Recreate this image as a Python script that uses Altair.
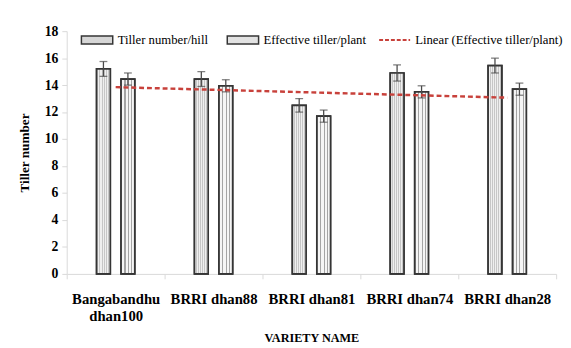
import altair as alt
import pandas as pd
import numpy as np

varieties = ["Bangabandhu dhan100", "BRRI dhan88", "BRRI dhan81", "BRRI dhan74", "BRRI dhan28"]
series_names = ["Tiller number/hill", "Effective tiller/plant"]
tiller_hill = [15.2, 14.45, 12.5, 14.9, 15.45]
tiller_hill_err = [0.55, 0.55, 0.5, 0.6, 0.55]
effective_tiller = [14.45, 13.95, 11.7, 13.5, 13.7]
effective_err = [0.45, 0.45, 0.45, 0.45, 0.45]
trend_name = "Linear (Effective tiller/plant)"
y_ticks = [0, 2, 4, 6, 8, 10, 12, 14, 16, 18]

rows = []
for i, v in enumerate(varieties):
    rows.append({"variety": v, "series": series_names[0], "value": tiller_hill[i],
                 "lo": tiller_hill[i] - tiller_hill_err[i], "hi": tiller_hill[i] + tiller_hill_err[i]})
    rows.append({"variety": v, "series": series_names[1], "value": effective_tiller[i],
                 "lo": effective_tiller[i] - effective_err[i], "hi": effective_tiller[i] + effective_err[i]})
df = pd.DataFrame(rows)

slope, intercept = np.polyfit(np.arange(1, len(varieties) + 1), effective_tiller, 1)
trend = pd.DataFrame({
    "variety": varieties,
    "fit": [intercept + slope * (i + 1) for i in range(len(varieties))],
    "name": [trend_name] * len(varieties),
})

SERIF = "Liberation Serif"
GRID = "#d9d9d9"
DARK = "#353535"


def stripes(n, c1, c2, frac):
    stops = []
    for k in range(n):
        a = k / n
        b = (k + frac) / n
        c = (k + 1) / n
        stops += [alt.GradientStop(offset=a, color=c1), alt.GradientStop(offset=b, color=c1),
                  alt.GradientStop(offset=b, color=c2), alt.GradientStop(offset=c, color=c2)]
    return alt.Gradient(gradient="linear", stops=stops, x1=0, x2=1, y1=0, y2=0)


tex1 = stripes(7, "#c6c6c6", "#efefef", 0.5)
tex2 = stripes(4, "#a4a4a4", "#f5f5f5", 0.3)

x_enc = alt.X(
    "variety:N", sort=varieties,
    scale=alt.Scale(paddingInner=0, paddingOuter=0),
    axis=alt.Axis(
        title="VARIETY NAME", labelAngle=0, labelFont=SERIF, labelFontSize=15,
        labelFontWeight="bold", labelColor="black", labelPadding=13, labelLineHeight=18,
        labelExpr="datum.value == 'Bangabandhu dhan100' ? ['Bangabandhu', 'dhan100'] : datum.value",
        tickBand="extent", tickSize=5, tickColor=GRID, domainColor=GRID,
        titleFont=SERIF, titleFontSize=12.5, titleFontWeight="bold", titleColor="black",
        titlePadding=8,
    ),
)
xoff = alt.XOffset("series:N", sort=series_names,
                   scale=alt.Scale(domain=series_names, range=[30.5, 69.5],
                                   paddingInner=0.44, paddingOuter=0))

y_axis = alt.Axis(
    title="Tiller number", values=y_ticks, grid=False, labelFont=SERIF, labelFontSize=14,
    labelFontWeight="bold", labelColor="black", labelPadding=4, tickSize=5,
    tickColor=GRID, domainColor=GRID, titleFont=SERIF, titleFontSize=13.5,
    titleFontWeight="bold", titleColor="black", titlePadding=13,
)
y_scale = alt.Scale(domain=[0, 18], nice=False)

bars = alt.Chart(df).mark_bar(stroke=DARK, strokeWidth=1.7).encode(
    x=x_enc,
    xOffset=xoff,
    y=alt.Y("value:Q", scale=y_scale, axis=y_axis),
    fill=alt.Fill(
        "series:N", sort=series_names,
        scale=alt.Scale(domain=series_names, range=["#d6d6d6", "#e2e2e2"]),
        legend=alt.Legend(
            orient="none", legendX=14, legendY=-8, direction="horizontal", title=None,
            symbolType="M-1,-0.25H1V0.25H-1Z", symbolSize=1024,
            symbolStrokeColor=DARK, symbolStrokeWidth=1.5,
            labelFont=SERIF, labelFontSize=13, labelColor="black",
            columnPadding=16, labelOffset=4, padding=0,
        ),
    ),
)

bars_tex = alt.Chart(df).mark_bar(stroke=DARK, strokeWidth=1.7).encode(
    x=x_enc,
    xOffset=xoff,
    y=alt.Y("value:Q", scale=y_scale, axis=y_axis),
    fill=alt.condition(alt.datum.series == series_names[0], alt.value(tex1), alt.value(tex2)),
)

err = alt.Chart(df).mark_rule(color="#4a4a4a", strokeWidth=1.3).encode(
    x=x_enc, xOffset=xoff,
    y=alt.Y("lo:Q", scale=y_scale, axis=y_axis), y2="hi:Q",
)
cap_lo = alt.Chart(df).mark_tick(color="#4a4a4a", size=8, thickness=1.3).encode(
    x=x_enc, xOffset=xoff, y=alt.Y("lo:Q", scale=y_scale, axis=y_axis),
)
cap_hi = alt.Chart(df).mark_tick(color="#4a4a4a", size=8, thickness=1.3).encode(
    x=x_enc, xOffset=xoff, y=alt.Y("hi:Q", scale=y_scale, axis=y_axis),
)

line = alt.Chart(trend).mark_line(strokeDash=[5, 3], strokeWidth=2.5).encode(
    x=x_enc,
    y=alt.Y("fit:Q", scale=y_scale, axis=y_axis),
    stroke=alt.Stroke(
        "name:N", scale=alt.Scale(domain=[trend_name], range=["#c8413b"]),
        legend=alt.Legend(
            orient="none", legendX=318, legendY=-8, title=None,
            symbolType="stroke", symbolSize=1000, symbolStrokeWidth=2,
            symbolDash=[4, 2], labelFont=SERIF, labelFontSize=13,
            labelColor="black", labelOffset=4, padding=0,
        ),
    ),
)

chart = alt.layer(bars, bars_tex, err, cap_lo, cap_hi, line).properties(
    width=500, height=248,
    padding={"left": 10, "top": 12, "right": 0, "bottom": 0},
    background="white",
).configure_view(stroke=None)

chart.save("out.html", embed_options={"renderer": "svg", "actions": False})
